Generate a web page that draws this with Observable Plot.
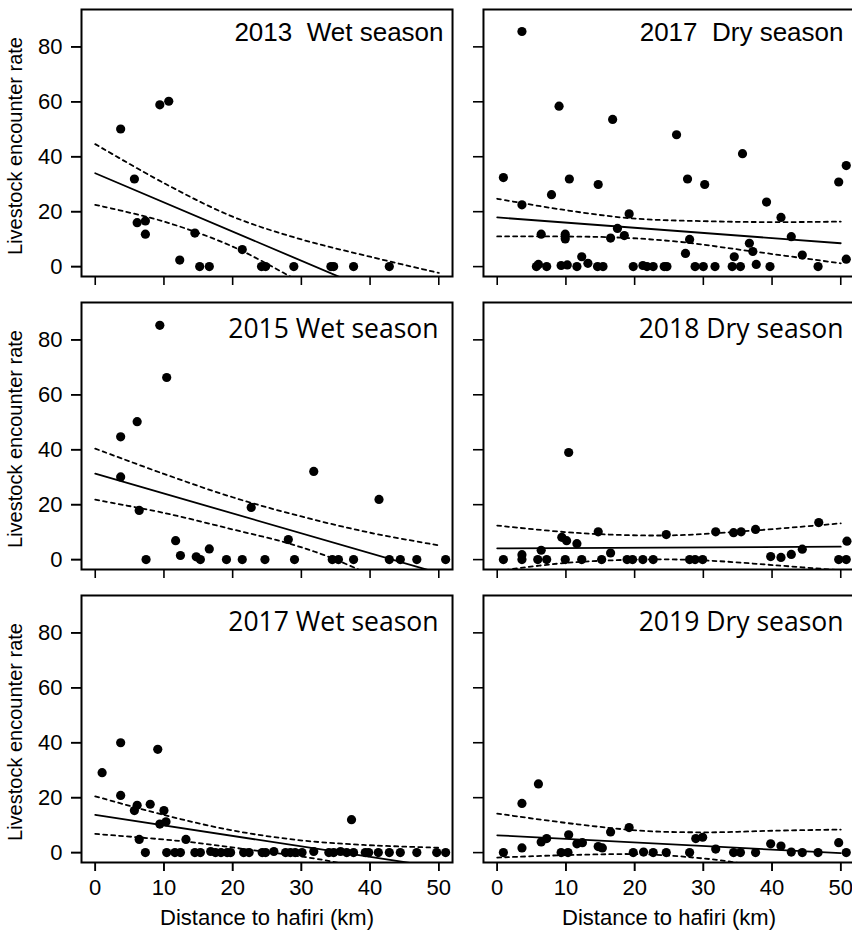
<!DOCTYPE html>
<html><head><meta charset="utf-8">
<script src="https://cdn.jsdelivr.net/npm/d3@7"></script>
<script src="https://cdn.jsdelivr.net/npm/@observablehq/plot@0.6"></script>
<style>
html,body{margin:0;padding:0;background:#fff;overflow:hidden;width:852px;height:930px;}
#chart{width:856px;overflow:hidden;}
#chart svg{max-width:none !important;}
svg text{white-space:pre;}
g[aria-label$="tick label"]{font-size:22px !important;}
</style></head><body><div id="chart"></div>
<script>
// ---- axis ticks & labels ----
const xTicks = [0, 10, 20, 30, 40, 50];
const yTicks = [0, 20, 40, 60, 80];
const xTitle = "Distance to hafiri (km)";
const yTitle = "Livestock encounter rate";

// ---- 2013 Wet season ----
const wet2013Points = [[3.7,50.1],[5.7,31.9],[6.1,16.0],[7.3,16.6],[7.3,11.8],[9.4,58.9],[10.7,60.2],[12.3,2.4],[14.5,12.2],[15.2,0],[16.6,0],[21.4,6.2],[24.2,0],[24.8,0],[28.9,0],[34.3,0],[34.7,0],[37.6,0],[42.8,0]];
const wet2013Fit = [[0,34.0],[50,-19.1]];
const wet2013Upper = [[0,44.6],[10,30.4],[20,18.2],[30,9.9],[40,3.6],[50,-2.3]];
const wet2013Lower = [[0,22.5],[10,16.4],[20,7.3],[30,-5.7],[36,-13]];

// ---- 2017 Dry season ----
const dry2017Points = [[3.6,85.6],[0.9,32.4],[3.6,22.5],[7.9,26.2],[9.0,58.4],[10.5,31.9],[6.4,11.8],[9.9,11.8],[9.9,10.1],[5.7,0],[6.0,0.8],[7.2,0],[9.3,0.4],[10.2,0.6],[11.6,0],[12.3,3.6],[13.2,1.2],[14.7,29.9],[14.6,0],[15.4,0],[16.8,53.6],[16.5,10.4],[17.5,13.9],[18.5,11.3],[19.2,19.2],[19.8,0],[21.2,0.4],[21.8,0],[22.7,0],[24.3,0],[24.7,0],[26.1,48.0],[27.4,4.8],[27.7,31.9],[28.0,9.9],[28.8,0],[30.0,0],[30.2,29.9],[31.7,0],[34.2,0],[34.5,3.6],[35.4,0],[35.7,41.1],[36.7,8.5],[37.2,5.5],[37.7,0.8],[39.2,23.5],[39.7,0],[41.3,17.9],[42.8,10.9],[44.4,4.2],[46.7,0],[49.7,30.8],[50.8,36.8],[50.8,2.7]];
const dry2017Fit = [[0,17.9],[50,8.5]];
const dry2017Upper = [[0,24.7],[9.3,20.8],[19.4,17.6],[31,16.5],[40.7,16.2],[50,16.4]];
const dry2017Lower = [[0,11.0],[16.5,10.7],[26.2,9.1],[35.8,6.0],[50,1.2]];

// ---- 2015 Wet season ----
const wet2015Points = [[3.7,44.7],[3.7,30.1],[6.1,50.2],[6.4,17.9],[7.4,0],[9.4,85.3],[10.4,66.3],[11.7,6.9],[12.4,1.5],[14.7,1.0],[15.3,0],[16.6,3.9],[19.1,0],[21.4,0],[22.7,19.0],[24.7,0],[28.1,7.3],[29.0,0],[31.8,32.1],[34.5,0],[35.4,0],[37.6,0],[41.3,21.9],[42.8,0],[44.4,0],[46.8,0],[51.0,0]];
const wet2015Fit = [[0,31.3],[50,-4.9]];
const wet2015Upper = [[0,40.4],[10,31.2],[20,22.7],[30,15.7],[40,9.8],[50,5.2]];
const wet2015Lower = [[0,21.8],[10,17.0],[20,11.0],[28,6.0],[34,1.0],[40,-5.5],[45,-11]];

// ---- 2018 Dry season ----
const dry2018Points = [[0.9,0],[3.6,1.8],[3.6,0],[5.9,0],[6.4,3.4],[7.2,0],[9.4,8.1],[10.1,6.9],[10.4,39.0],[9.9,0],[11.6,5.8],[12.3,0],[14.7,10.1],[15.2,0],[16.5,2.4],[18.9,0],[19.7,0],[21.2,0],[22.7,0],[24.6,9.1],[28.0,0],[28.8,0],[29.9,0],[31.8,10.1],[34.4,9.8],[35.5,10.1],[37.6,11.0],[39.8,1.1],[41.3,0.8],[42.8,1.9],[44.4,3.8],[46.8,13.5],[49.7,0],[50.8,0],[50.9,6.7]];
const dry2018Fit = [[0,4.1],[50,4.7]];
const dry2018Upper = [[0,12.4],[11.7,9.7],[24.6,8.8],[35.8,10.3],[50,13.2]];
const dry2018Lower = [[0,-4.2],[10,-1.2],[22.8,0.1],[31,-0.4],[40.7,-2.1],[50,-3.9]];

// ---- 2017 Wet season ----
const wet2017Points = [[1.0,29.1],[3.7,40.0],[3.7,20.8],[5.7,15.3],[6.1,17.2],[6.4,4.8],[7.3,0],[8.0,17.6],[9.1,37.6],[9.4,10.4],[10.0,15.3],[10.3,11.2],[10.4,0],[11.6,0],[12.4,0],[13.2,4.8],[14.5,0],[15.3,0],[16.8,0.4],[17.5,0],[18.3,0],[19.2,0],[19.7,0],[21.6,0],[22.4,0],[24.3,0],[24.8,0],[26.0,0.4],[27.7,0],[28.4,0],[29.1,0],[30.1,0],[31.8,0.4],[34.0,0],[34.7,0],[35.7,0.4],[36.6,0],[37.3,12.0],[37.6,0],[39.3,0],[39.8,0],[41.2,0],[42.8,0],[44.4,0],[46.8,0],[49.7,0],[51.0,0]];
const wet2017Fit = [[0,13.7],[50,-5.35]];
const wet2017Upper = [[0,20.5],[10,13.7],[19.7,8.2],[29.4,4.6],[39,2.8],[50,1.8]];
const wet2017Lower = [[0,6.8],[13.2,4.0],[22,1.2],[31.8,-2.1],[36,-4.0],[42,-7]];

// ---- 2019 Dry season ----
const dry2019Points = [[0.9,0],[3.6,1.7],[3.6,17.9],[6.0,25.0],[6.4,3.9],[7.2,5.1],[9.3,0],[10.3,0],[10.4,6.5],[11.6,3.2],[12.4,3.6],[14.7,2.2],[15.3,1.7],[16.5,7.5],[19.2,9.1],[19.8,0],[21.3,0.2],[22.7,0],[24.6,0],[28.0,0],[28.9,5.1],[29.9,5.6],[31.8,1.3],[34.4,0],[35.4,0],[37.6,0],[39.8,3.2],[41.3,2.4],[42.8,0.2],[44.4,0],[46.7,0],[49.7,3.6],[50.8,0]];
const dry2019Fit = [[0,6.3],[50,-0.2]];
const dry2019Upper = [[0,14.2],[11.7,10.3],[21.4,7.9],[31,7.4],[40.7,8.0],[50,8.4]];
const dry2019Lower = [[0,-1.8],[11.7,-0.8],[21.4,-0.6],[28.6,-1.8],[33.9,-3.3],[42,-7]];

// ---- panel table (layout: column, row) ----
const panels = [
  {title: "2013  Wet season", col: "left",  row: 1, points: wet2013Points, fit: wet2013Fit, upper: wet2013Upper, lower: wet2013Lower},
  {title: "2017  Dry season", col: "right", row: 1, points: dry2017Points, fit: dry2017Fit, upper: dry2017Upper, lower: dry2017Lower},
  {title: "2015 Wet season",  col: "left",  row: 2, points: wet2015Points, fit: wet2015Fit, upper: wet2015Upper, lower: wet2015Lower},
  {title: "2018 Dry season",  col: "right", row: 2, points: dry2018Points, fit: dry2018Fit, upper: dry2018Upper, lower: dry2018Lower},
  {title: "2017 Wet season",  col: "left",  row: 3, points: wet2017Points, fit: wet2017Fit, upper: wet2017Upper, lower: wet2017Lower},
  {title: "2019 Dry season",  col: "right", row: 3, points: dry2019Points, fit: dry2019Fit, upper: dry2019Upper, lower: dry2019Lower}
];

const pts = panels.flatMap(p => p.points.map(([x, y]) => ({x, y, col: p.col, row: p.row})));
const lineRows = (kind) => panels.flatMap(p => p[kind].map(([x, y]) => ({x, y, col: p.col, row: p.row, key: p.title + kind})));
const fitRows = lineRows("fit");
const bandRows = [...lineRows("upper"), ...lineRows("lower")];

const arial = "'Liberation Sans', Arial, Helvetica, sans-serif";
const calibri = "'Open Sans', Carlito, Lato, sans-serif";

const titleMarks = panels.map(p => {
  const isArial = p.title.includes("  ");
  const dx = p.col === "left" ? (isArial ? -9 : -14) : -11;
  return Plot.text([p], {
    fx: "col", fy: "row", text: "title",
    frameAnchor: "top-right", textAnchor: "end", lineAnchor: "top",
    dx,
    dy: isArial ? 13 : 16.5,
    fontSize: isArial ? 26 : 26.5,
    fontFamily: isArial ? arial : calibri,
    fill: "black"
  });
});

const chart = Plot.plot({
  width: 856, height: 930,
  marginLeft: 81, marginRight: 2, marginTop: 9, marginBottom: 68,
  style: {fontFamily: arial, fontSize: "22px", color: "black", background: "white", maxWidth: "none"},
  x: {domain: [-2, 52]},
  y: {domain: [-3.6, 93.6]},
  fx: {domain: ["left", "right"], paddingInner: 0.077, paddingOuter: 0, round: false, axis: null},
  fy: {domain: [1, 2, 3], paddingInner: 0.0887, paddingOuter: 0, round: false, axis: null},
  marks: [
    Plot.line(fitRows, {x: "x", y: "y", z: "key", fx: "col", fy: "row", stroke: "black", strokeWidth: 1.8, clip: true}),
    Plot.line(bandRows, {x: "x", y: "y", z: "key", fx: "col", fy: "row", stroke: "black", strokeWidth: 1.8, strokeDasharray: "4,4", curve: "catmull-rom", clip: true}),
    Plot.dot(pts, {x: "x", y: "y", fx: "col", fy: "row", r: 4.6, fill: "black", stroke: "none"}),
    Plot.frame({stroke: "black", strokeWidth: 2}),
    Plot.axisX({ticks: xTicks, tickSize: 9, tickFormat: () => "", label: null, facetAnchor: null, strokeWidth: 1.6}),
    Plot.axisX({ticks: xTicks, tickSize: 9, tickPadding: 8, label: null, facetAnchor: "bottom", fontSize: 22, strokeWidth: 1.6}),
    Plot.axisY({ticks: yTicks, tickSize: 10, tickFormat: () => "", label: null, facetAnchor: null, strokeWidth: 1.6}),
    Plot.axisY({ticks: yTicks, tickSize: 10, tickPadding: 9, label: null, facetAnchor: "left", fontSize: 22, strokeWidth: 1.6}),
    ...titleMarks,
    Plot.text([1, 2, 3].map(row => ({row, col: "left", t: yTitle})), {
      fx: "col", fy: "row", text: "t", frameAnchor: "left", rotate: -90,
      textAnchor: "middle", dx: -66, dy: 3, fontSize: 20, fill: "black"
    }),
    Plot.text(["left", "right"].map(col => ({col, row: 3, t: xTitle})), {
      fx: "col", fy: "row", text: "t", frameAnchor: "bottom", lineAnchor: "bottom",
      dy: 62, fontSize: 22, fill: "black"
    })
  ]
});
document.getElementById("chart").appendChild(chart);
</script></body></html>
